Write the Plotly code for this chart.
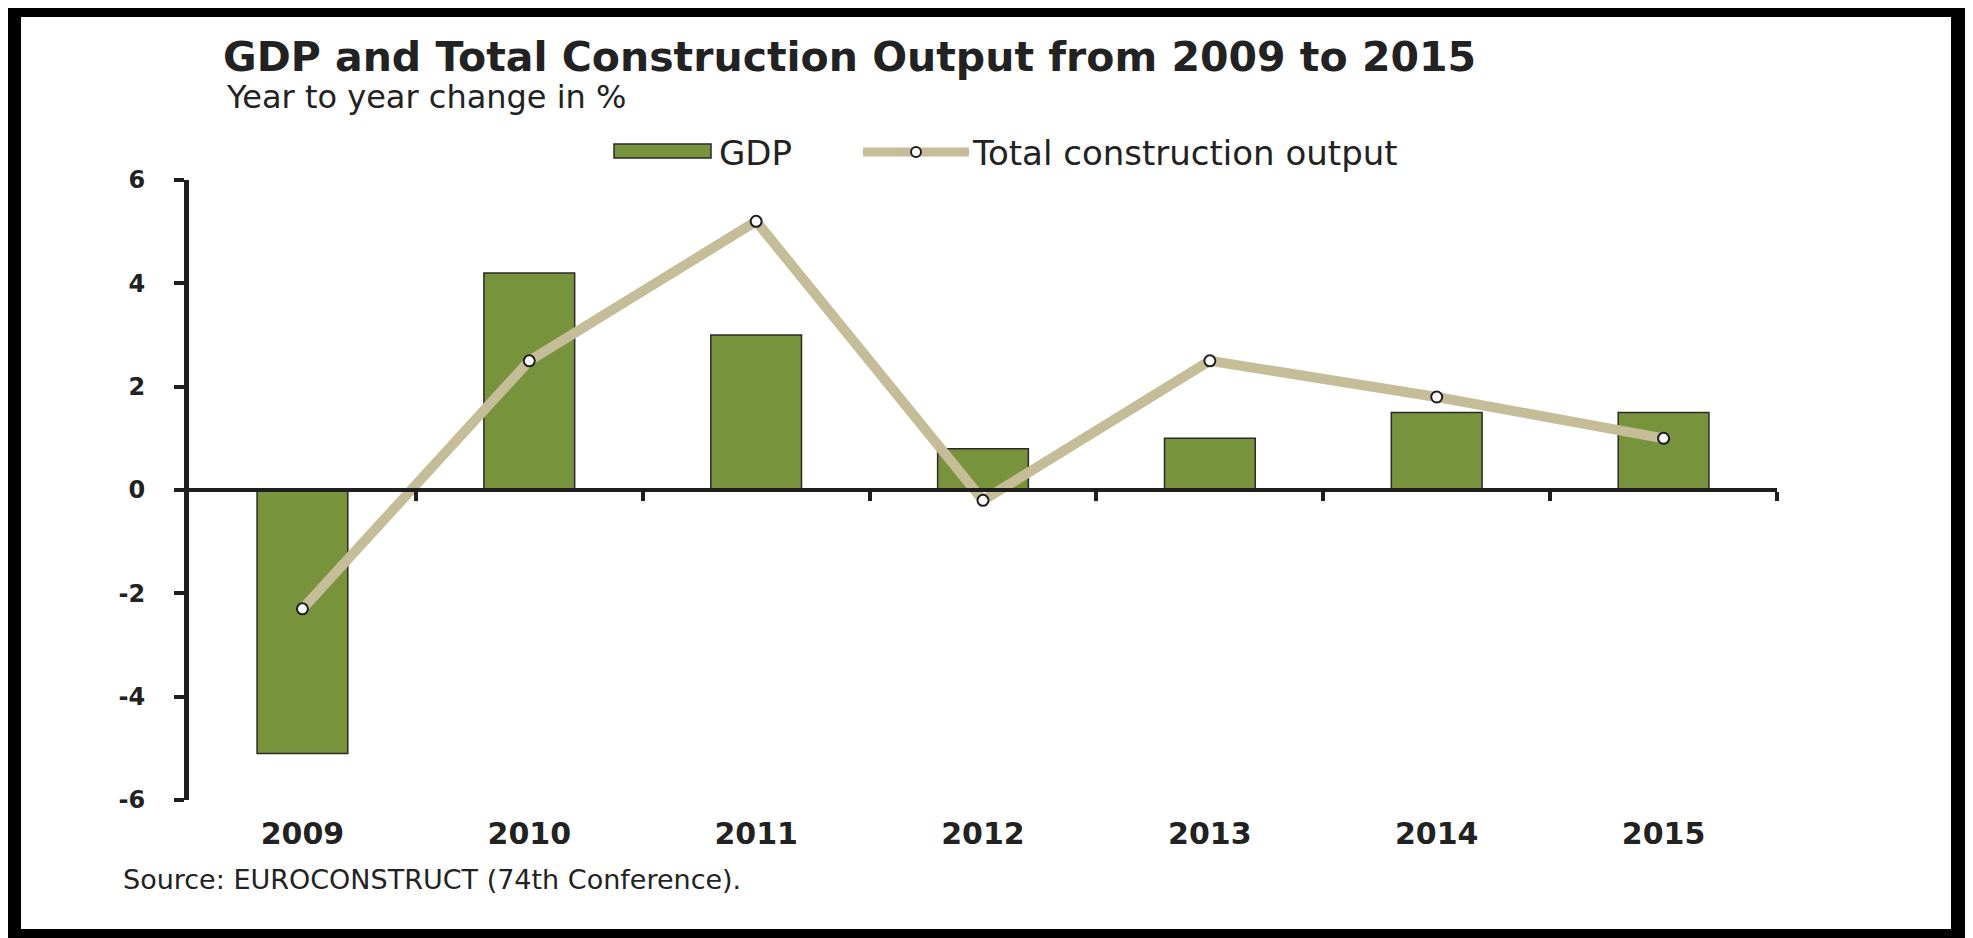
import plotly.graph_objects as go

# ---- data ----
years = ["2009", "2010", "2011", "2012", "2013", "2014", "2015"]
gdp = [-5.1, 4.2, 3.0, 0.8, 1.0, 1.5, 1.5]
construction = [-2.3, 2.5, 5.2, -0.2, 2.5, 1.8, 1.0]
y_ticks = [-6, -4, -2, 0, 2, 4, 6]
y_tick_labels = ["-6", "-4", "-2", "0", "2", "4", "6"]
boundary_ticks = [0.5, 1.5, 2.5, 3.5, 4.5, 5.5, 6.5]

title_text = "GDP and Total Construction Output from 2009 to 2015"
subtitle_text = "Year to year change in %"
source_text = "Source: EUROCONSTRUCT (74th Conference)."
gdp_name = "GDP"
line_name = "Total construction output"

GREEN = "#77933C"
BEIGE = "#C4BD97"
DARK = "#1E1E1E"
TXT = "#222222"
FONT = "DejaVu Sans"

# page body has an 8px margin; work in reference pixel coords and shift
OFF = 8
REF_W, REF_H = 1973, 938
W, H = REF_W - OFF, REF_H - OFF
X0, X1, Y0, Y1 = 189, 1777, 180, 800  # plot area in reference pixels


def px(x):
    return (x - X0) / (X1 - X0)


def py(y):
    return (Y1 - y) / (Y1 - Y0)


fig = go.Figure()
fig.add_trace(go.Bar(
    x=years, y=gdp, name=gdp_name, width=0.4,
    marker=dict(color=GREEN, line=dict(color="#2A2A2A", width=1.5)),
    showlegend=False, hoverinfo="x+y",
))
fig.add_trace(go.Scatter(
    x=years, y=construction, name=line_name, mode="lines+markers",
    line=dict(color=BEIGE, width=10),
    marker=dict(size=11, color="white", line=dict(color=DARK, width=2)),
    showlegend=False, hoverinfo="x+y",
))
# helper trace so the zero-level axis (with category boundary ticks) is drawn
fig.add_trace(go.Scatter(
    x=[boundary_ticks[0] - 1, boundary_ticks[-1]], y=[0, 0], xaxis="x2",
    mode="lines", line=dict(width=0, color="rgba(0,0,0,0)"),
    showlegend=False, hoverinfo="skip",
))

shapes = []
# outer dotted frame (may be clipped)
shapes.append(dict(type="rect", xref="paper", yref="paper",
                   x0=px(1.5), x1=px(REF_W - 1), y0=py(REF_H - 1), y1=py(1.5),
                   line=dict(color="#9A9A9A", width=2, dash="dot"), layer="above"))
# black border bands
for (a, b, c, d) in [(4, 17, 4, REF_W + 10), (4, REF_H + 10, 4, 21),
                     (4, REF_H + 10, 1951, REF_W + 10), (929, REF_H + 10, 4, REF_W + 10)]:
    shapes.append(dict(type="rect", xref="paper", yref="paper",
                       x0=px(c), x1=px(d), y0=py(b), y1=py(a),
                       fillcolor="black", line=dict(width=0), layer="above"))
# small orange mark top-right
shapes.append(dict(type="rect", xref="paper", yref="paper",
                   x0=px(1928), x1=px(REF_W + 10), y0=py(5), y1=py(0),
                   fillcolor="#F2B600", line=dict(width=0), layer="above"))
# custom legend swatches
shapes.append(dict(type="rect", xref="paper", yref="paper",
                   x0=px(614), x1=px(711), y0=py(158), y1=py(144),
                   fillcolor=GREEN, line=dict(color="#2A2A2A", width=1.5)))
shapes.append(dict(type="line", xref="paper", yref="paper",
                   x0=px(863), x1=px(969), y0=py(152), y1=py(152),
                   line=dict(color=BEIGE, width=9)))
shapes.append(dict(type="circle", xref="paper", yref="paper",
                   x0=px(911), x1=px(921), y0=py(157), y1=py(147),
                   fillcolor="white", line=dict(color=DARK, width=2)))

annotations = [
    dict(text="<b>" + title_text + "</b>", xref="paper", yref="paper",
         x=px(221), y=py(57), xanchor="left", yanchor="middle", showarrow=False,
         font=dict(family=FONT, size=41, color=TXT)),
    dict(text=subtitle_text, xref="paper", yref="paper",
         x=px(224), y=py(97), xanchor="left", yanchor="middle", showarrow=False,
         font=dict(family=FONT, size=32, color=TXT)),
    dict(text=gdp_name, xref="paper", yref="paper",
         x=px(717), y=py(153), xanchor="left", yanchor="middle", showarrow=False,
         font=dict(family=FONT, size=34, color=TXT)),
    dict(text=line_name, xref="paper", yref="paper",
         x=px(970), y=py(153), xanchor="left", yanchor="middle", showarrow=False,
         font=dict(family=FONT, size=34, color=TXT)),
    dict(text=source_text, xref="paper", yref="paper",
         x=px(121), y=py(879), xanchor="left", yanchor="middle", showarrow=False,
         font=dict(family=FONT, size=27, color=TXT)),
]

fig.update_layout(
    width=W, height=H,
    margin=dict(l=X0 - OFF, r=W - (X1 - OFF), t=Y0 - OFF, b=H - (Y1 - OFF), pad=0),
    paper_bgcolor="white", plot_bgcolor="white",
    showlegend=False,
    shapes=shapes,
    annotations=annotations,
    xaxis=dict(
        type="category", categoryorder="array", categoryarray=years,
        range=[-0.5, 6.5], showline=False, showgrid=False, zeroline=False,
        ticks="", ticklabelstandoff=13,
        tickfont=dict(family=FONT, size=30, color=TXT, weight="bold"),
        fixedrange=True,
    ),
    xaxis2=dict(
        overlaying="x", anchor="free", position=0.5, side="bottom",
        type="linear", range=[-0.5, 6.5], showline=True, linecolor=DARK, linewidth=4,
        showgrid=False, zeroline=False, ticks="outside", tickvals=boundary_ticks,
        ticklen=9, tickwidth=4, tickcolor=DARK, showticklabels=False,
        fixedrange=True,
    ),
    yaxis=dict(
        range=[-6, 6], tickvals=y_ticks, ticktext=y_tick_labels, showgrid=False,
        zeroline=True, zerolinecolor=DARK, zerolinewidth=4,
        showline=True, linecolor=DARK, linewidth=5,
        ticks="outside", ticklen=10, tickwidth=4, tickcolor=DARK,
        ticklabelstandoff=24,
        tickfont=dict(family=FONT, size=24, color=TXT, weight="bold"),
        fixedrange=True,
    ),
)

fig.write_html("out.html")
